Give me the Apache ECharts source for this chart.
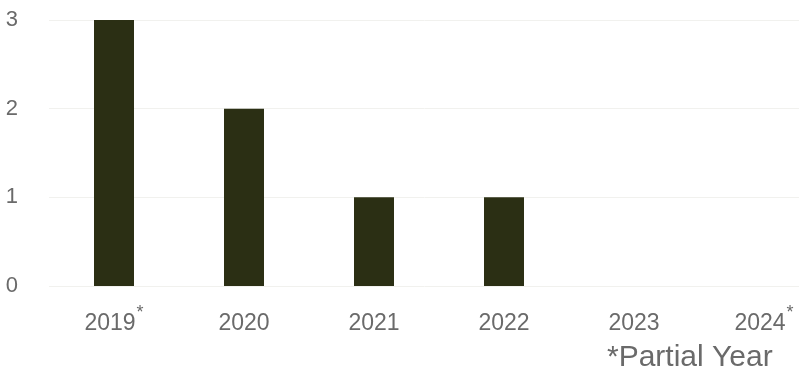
<!DOCTYPE html>
<html>
<head>
<meta charset="utf-8">
<script src="https://cdn.jsdelivr.net/npm/echarts@6/dist/echarts.min.js"></script>
<style>
	html, body { margin: 0; padding: 0; background: #fff; }
	#chart { width: 799px; height: 383px; }
</style>
</head>
<body>
<div id="chart"></div>
<script>
	var years = ['2019', '2020', '2021', '2022', '2023', '2024'];
	var partial = [true, false, false, false, false, true];
	var counts = [3, 2, 1, 1, 0, 0];
	var yTicks = [0, 1, 2, 3];
	var footNote = '*Partial Year';

	var chart = echarts.init(document.getElementById('chart'));
	chart.setOption({
		animation: false,
		grid: { left: 49, top: 20, width: 780, bottom: 97, outerBoundsMode: 'none', containLabel: false },
		xAxis: {
			type: 'category',
			data: years.map(function (y, i) { return partial[i] ? y + '*' : y; }),
			axisLine: { show: false },
			axisTick: { show: false },
			axisLabel: {
				margin: 18,
				fontFamily: 'Liberation Sans, Arial, sans-serif',
				fontSize: 23,
				lineHeight: 40,
				color: '#6a6a6a',
				formatter: function (v) {
					if (v.charAt(v.length - 1) === '*') {
						return v.slice(0, -1) + '{s|*}';
					}
					return v;
				},
				rich: {
					s: { fontSize: 18, lineHeight: 18, verticalAlign: 'top', color: '#6a6a6a', padding: [0, 0, 0, 1], fontFamily: 'Liberation Sans, Arial, sans-serif' }
				}
			}
		},
		yAxis: {
			type: 'value',
			min: yTicks[0],
			max: yTicks[yTicks.length - 1],
			interval: 1,
			axisLine: { show: false },
			axisTick: { show: false },
			splitLine: { lineStyle: { color: '#f1f1ee', width: 1 } },
			axisLabel: {
				margin: 31,
				fontFamily: 'Liberation Sans, Arial, sans-serif',
				fontSize: 22,
				color: '#6a6a6a'
			}
		},
		series: [{
			type: 'bar',
			data: counts,
			barWidth: 40,
			itemStyle: { color: '#2b2f14' }
		}],
		graphic: [{
			type: 'text',
			left: 607,
			top: 343,
			style: {
				text: footNote,
				font: '30px "Liberation Sans", Arial, sans-serif',
				fill: '#6a6a6a'
			}
		}]
	});
</script>
</body>
</html>
